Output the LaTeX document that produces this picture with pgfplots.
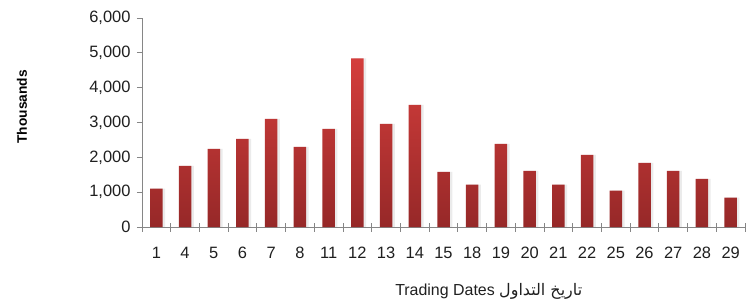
\documentclass[border=0pt]{standalone}
\usepackage{pgfplots}
\pgfplotsset{compat=1.18}
\usepackage{fontspec}
\setmainfont{Liberation Sans}
\newfontfamily\arabicfont[Script=Arabic]{DejaVu Sans}
\TeXXeTstate=1
\definecolor{axgray}{RGB}{134,134,134}
\definecolor{bartop}{RGB}{212,62,60}
\definecolor{barbot}{RGB}{150,40,40}
\pgfplotstableread{
x val
0 1100
1 1757
2 2244
3 2530
4 3105
5 2300
6 2818
7 4840
8 2962
9 3507
10 1585
11 1213
12 2388
13 1614
14 1213
15 2073
16 1041
17 1843
18 1614
19 1385
20 840
}\datatable
\begin{document}
\begin{tikzpicture}
\path[use as bounding box] (-142bp,-77bp) rectangle (612bp,227bp);
\begin{axis}[
  at={(0,0)}, anchor=south west,
  scale only axis, width=603bp, height=209bp,
  xmin=-0.5, xmax=20.5, ymin=0, ymax=6000,
  axis x line*=bottom, axis y line*=left,
  axis line style={axgray, line width=0.8pt, -},
  xtick={0,...,20},
  xticklabels={1,4,5,6,7,8,11,12,13,14,15,18,19,20,21,22,25,26,27,28,29},
  minor xtick={-0.5,0.5,...,20.5},
  major x tick style={draw=none},
  minor x tick style={axgray, line width=0.8pt},
  minor tick length=9bp,
  xtick align=center,
  ytick={0,1000,...,6000},
  ytick align=outside,
  major tick length=5bp,
  major y tick style={axgray, line width=0.8pt},
  /pgf/number format/assume math mode=true,
  /pgf/number format/1000 sep={,},
  tick label style={font=\fontsize{16.5}{19}\selectfont, text=black!88},
  xticklabel style={yshift=-14bp},
  yticklabel style={xshift=-3bp},
  ylabel={\textbf{Thousands}},
  ylabel style={at={(axis description cs:-0.199,0.575)}, anchor=center, rotate=0, font=\fontsize{13.8}{16}\selectfont},
  xlabel={Trading Dates {\arabicfont\beginR تاريخ التداول\endR}},
  xlabel style={at={(axis description cs:0.575,-0.306)}, anchor=center, font=\fontsize{16}{18}\selectfont, text=black!88},
  clip=false,
]
\addplot[ybar, bar width=12.5bp, bar shift=2.5bp, draw=none, fill=black, fill opacity=0.08] table[x=x, y=val] {\datatable};
\addplot[ybar, bar width=12.5bp, bar shift=0bp, draw=none, top color=bartop, bottom color=barbot] table[x=x, y=val] {\datatable};
\end{axis}
\end{tikzpicture}
\end{document}
